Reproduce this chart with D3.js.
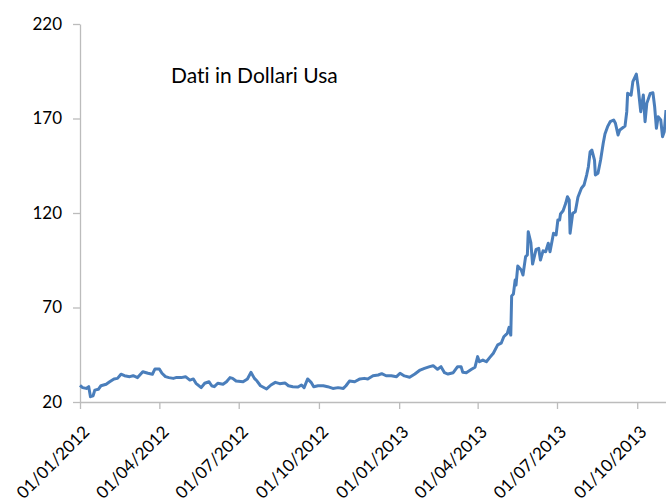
<!DOCTYPE html>
<html>
<head>
<meta charset="utf-8">
<script src="https://cdn.jsdelivr.net/npm/d3@7"></script>
<style>
    body { margin: 0; background: #ffffff; }
    svg { display: block; }
    .tick text { font-family: Lato, "Open Sans", sans-serif; font-size: 17px; fill: #000000; }
    .title { font-family: Lato, "Noto Sans", sans-serif; font-size: 21px; fill: #000000; font-variant-ligatures: none; }
</style>
</head>
<body>
<svg width="666" height="502"></svg>
<script>
// date of each reading (dd/mm/yyyy as shown on the axis, stored ISO)
var dates = [
    "2012-01-01","2012-01-04","2012-01-08","2012-01-11","2012-01-13","2012-01-16","2012-01-18","2012-01-22",
    "2012-01-25","2012-01-31","2012-02-04","2012-02-09","2012-02-13","2012-02-17","2012-02-21","2012-02-27",
    "2012-03-02","2012-03-07","2012-03-13","2012-03-19","2012-03-24","2012-03-27","2012-04-01","2012-04-04",
    "2012-04-08","2012-04-12","2012-04-17","2012-04-20","2012-04-26","2012-05-01","2012-05-06","2012-05-10",
    "2012-05-13","2012-05-19","2012-05-23","2012-05-28","2012-05-31","2012-06-03","2012-06-07","2012-06-13",
    "2012-06-17","2012-06-21","2012-06-24","2012-06-28","2012-07-06","2012-07-11","2012-07-15","2012-07-19",
    "2012-07-22","2012-07-26","2012-08-02","2012-08-07","2012-08-12","2012-08-17","2012-08-23","2012-08-27",
    "2012-09-01","2012-09-07","2012-09-11","2012-09-14","2012-09-18","2012-09-22","2012-09-25","2012-09-30",
    "2012-10-06","2012-10-11","2012-10-17","2012-10-23","2012-10-29","2012-11-01","2012-11-05","2012-11-11",
    "2012-11-17","2012-11-22","2012-11-26","2012-12-02","2012-12-08","2012-12-12","2012-12-17","2012-12-23",
    "2012-12-29","2013-01-02","2013-01-07","2013-01-13","2013-01-19","2013-01-25","2013-01-30","2013-02-05",
    "2013-02-09","2013-02-14","2013-02-18","2013-02-22","2013-02-26","2013-03-04","2013-03-09","2013-03-13",
    "2013-03-15","2013-03-19","2013-03-25","2013-03-29","2013-04-01","2013-04-03","2013-04-07","2013-04-11",
    "2013-04-15","2013-04-19","2013-04-24","2013-04-28","2013-05-01","2013-05-05","2013-05-07","2013-05-09",
    "2013-05-10","2013-05-12","2013-05-14","2013-05-15","2013-05-17","2013-05-21","2013-05-23","2013-05-26",
    "2013-05-28","2013-05-29","2013-06-01","2013-06-03","2013-06-07","2013-06-10","2013-06-12","2013-06-15",
    "2013-06-18","2013-06-21","2013-06-23","2013-06-27","2013-06-30","2013-07-02","2013-07-04","2013-07-05",
    "2013-07-08","2013-07-11","2013-07-13","2013-07-15","2013-07-16","2013-07-19","2013-07-22","2013-07-25",
    "2013-07-29","2013-08-01","2013-08-04","2013-08-06","2013-08-08","2013-08-10","2013-08-13","2013-08-14",
    "2013-08-17","2013-08-20","2013-08-23","2013-08-25","2013-08-28","2013-08-31","2013-09-04","2013-09-06",
    "2013-09-09","2013-09-11","2013-09-17","2013-09-19","2013-09-20","2013-09-24","2013-09-26","2013-09-30",
    "2013-10-02","2013-10-04","2013-10-05","2013-10-08","2013-10-10","2013-10-12","2013-10-16","2013-10-19",
    "2013-10-21","2013-10-23","2013-10-25","2013-10-28","2013-10-30","2013-11-01","2013-11-03"
];
// price in US dollars
var prices = [
    28.8,27.6,27.2,28.1,22.8,23.3,26.3,26.7,
    28.6,29.4,30.7,32.2,32.5,34.7,33.9,33.4,
    33.9,32.9,36.0,35.2,34.7,37.5,37.5,35.2,
    33.4,32.9,32.5,32.9,32.9,33.4,31.6,32.2,
    29.9,27.6,29.9,30.7,28.6,28.1,29.9,29.4,
    30.7,32.9,32.5,31.1,30.7,32.2,35.7,32.5,
    31.1,28.6,26.9,29.0,30.4,29.7,30.1,28.6,
    28.1,27.9,29.0,27.6,32.2,30.4,28.1,28.6,
    28.6,28.1,27.2,27.6,27.2,28.6,31.1,30.7,
    32.2,32.5,32.2,33.9,34.3,35.0,33.9,33.9,
    33.4,35.2,33.8,33.1,34.8,36.9,37.8,38.7,
    39.2,37.3,38.7,35.5,34.8,35.5,38.7,38.7,
    35.7,35.5,37.3,38.4,44.0,41.3,42.2,41.3,
    43.6,45.8,50.2,51.1,54.5,56.3,59.5,55.4,
    76.1,77.1,84.5,81.9,91.9,89.8,87.2,96.9,
    97.8,110.1,104.4,93.0,100.8,101.3,95.1,100.0,
    99.5,104.0,99.5,109.3,108.4,116.3,116.3,119.5,
    121.2,125.1,128.6,126.9,109.3,119.8,120.7,128.3,
    133.1,134.8,140.1,144.5,152.4,153.3,148.0,140.1,
    141.0,148.0,156.9,161.8,165.7,168.3,169.2,167.5,
    161.3,163.9,166.0,173.6,183.3,182.4,189.5,193.5,
    186.8,178.0,173.6,182.4,168.3,178.0,183.3,183.6,
    176.2,164.8,170.9,169.2,160.4,163.0,174.5
];
var yTicks = [20, 70, 120, 170, 220];
var xStart = "2012-01-01", xEnd = "2013-11-03";
var chartTitle = "Dati in Dollari Usa";

var parseDate = d3.timeParse("%Y-%m-%d");
var data = dates.map(function (d, i) { return { date: parseDate(d), value: prices[i] }; });

var svg = d3.select("svg");
var margin = { left: 80, right: 0, top: 24, bottom: 100 };
var width = 666, height = 502;

var x = d3.scaleTime()
    .domain([parseDate(xStart), parseDate(xEnd)])
    .range([margin.left, width - margin.right]);
var y = d3.scaleLinear()
    .domain([20, 220])
    .range([height - margin.bottom, margin.top]);

var axisColor = "#bcbcbc";

// y axis
var yAxis = svg.append("g")
    .attr("transform", "translate(" + margin.left + ",0)")
    .call(d3.axisLeft(y).tickValues(yTicks).tickSize(7).tickPadding(11).tickSizeOuter(0));
yAxis.select(".domain").attr("stroke", axisColor).attr("stroke-width", 1.3);
yAxis.selectAll(".tick line").attr("stroke", axisColor).attr("stroke-width", 1.3);

// x axis
var xAxis = svg.append("g")
    .attr("transform", "translate(0," + y(20) + ")")
    .call(d3.axisBottom(x).ticks(d3.timeMonth.every(3)).tickFormat(d3.timeFormat("%d/%m/%Y")).tickSize(7).tickSizeOuter(0));
xAxis.select(".domain").attr("stroke", axisColor).attr("stroke-width", 1.3);
xAxis.selectAll(".tick line").attr("stroke", axisColor).attr("stroke-width", 1.3);
xAxis.selectAll(".tick text")
    .attr("text-anchor", "end")
    .attr("x", 0).attr("y", 0).attr("dy", 0)
    .attr("transform", "translate(10,31) rotate(-45)");

// line
var line = d3.line()
    .x(function (d) { return x(d.date); })
    .y(function (d) { return y(d.value); });

svg.append("path")
    .datum(data)
    .attr("fill", "none")
    .attr("stroke", "#4a7ebb")
    .attr("stroke-width", 3)
    .attr("stroke-linejoin", "round")
    .attr("d", line);

svg.append("text")
    .attr("class", "title")
    .attr("x", 171)
    .attr("y", 83)
    .text(chartTitle);
</script>
</body>
</html>
